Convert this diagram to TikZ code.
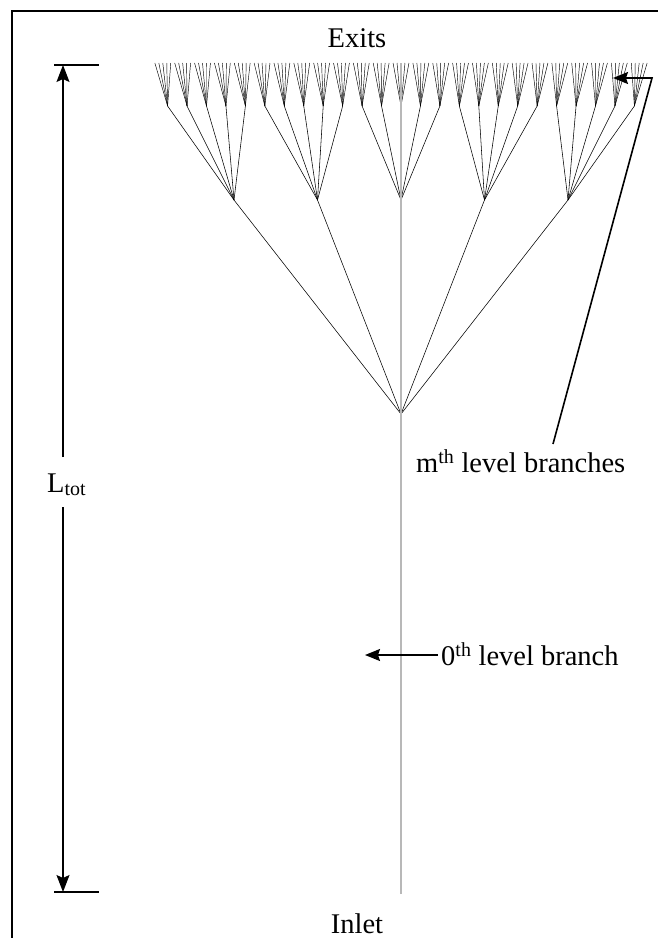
\documentclass[tikz,border=0pt]{standalone}
\usepackage{fontspec}
\setmainfont{Liberation Serif}
\usetikzlibrary{arrows.meta}
\begin{document}
\begin{tikzpicture}[x=1bp,y=-1bp,
  branch/.style={line width=0.55bp, black},
  tipbranch/.style={line width=0.45bp, black},
  axisline/.style={line width=1.1bp, black!28},
  framing/.style={line width=1.3bp, black},
  dimline/.style={line width=1.4bp, black},
  pointer/.style={line width=1.6bp, black, -{Stealth[length=15bp,width=12bp,inset=2bp]}},
  dimtip/.style={-{Stealth[length=17bp,width=13bp,inset=3bp]}},
  lab/.style={inner sep=0pt, font=\fontsize{28.5bp}{33bp}\selectfont}]
\useasboundingbox (0,0) rectangle (658,938);

% open frame: top and left edges
\coordinate (fbl) at (12,938);
\coordinate (ftl) at (12,11);
\coordinate (ftr) at (658,11);
\draw[framing] (fbl) -- (ftl) -- (ftr);

% tree nodes: inlet, root, and three levels of five-fold branching
\coordinate (in) at (401,894);
\coordinate (n0) at (401,414);
\foreach \k in {0,...,4}
  \coordinate (a\k) at ({401+(\k-2)*83.5},200);
\foreach \j in {0,...,24}
  \coordinate (b\j) at ({401+(\j-12)*19.45},106);
\foreach \i in {0,...,124}
  \coordinate (c\i) at ({401+(\i-62)*3.97},63);

% branches
\foreach \i in {0,...,124}{
  \pgfmathtruncatemacro{\p}{\i/5}
  \ifnum\i=62\else\draw[tipbranch] (b\p) -- (c\i);\fi
}
\foreach \j in {0,...,24}{
  \pgfmathtruncatemacro{\p}{\j/5}
  \ifnum\j=12\else\draw[branch] (a\p) -- (b\j);\fi
}
\foreach \k in {0,1,3,4}
  \draw[branch] (n0) -- (a\k);

% central axis from inlet to the middle exit
\draw[axisline] (in) -- (n0) -- (a2) -- (b12) -- (c62);

% labels
\node[lab, anchor=base] (exits) at (357,47) {Exits};
\node[lab, anchor=base] (inlet) at (357,933) {Inlet};
\node[lab, anchor=base west] (ltot) at (47,492) {L\textsubscript{tot}};
\node[lab, anchor=base west] (mlab) at (416,472) {m\textsuperscript{th} level branches};
\node[lab, anchor=base west] (zlab) at (441,665) {0\textsuperscript{th} level branch};

% overall length dimension
\coordinate (dt) at (63,65);
\coordinate (db) at (63,892);
\coordinate (dtl) at (54,65);
\coordinate (dtr) at (99,65);
\coordinate (dbl) at (54,892);
\coordinate (dbr) at (99,892);
\coordinate (gapt) at (63,457);
\coordinate (gapb) at (63,507);
\draw[dimline] (dtl) -- (dtr);
\draw[dimline] (dbl) -- (dbr);
\draw[dimline, dimtip] (gapt) -- (dt);
\draw[dimline, dimtip] (gapb) -- (db);

% pointer to the outermost branches
\coordinate (ms) at (553,444);
\coordinate (mb) at (652,78);
\coordinate (mt) at (613,78);
\draw[pointer] (ms) -- (mb) -- (mt);

% pointer to the trunk
\coordinate (zs) at (438,655);
\coordinate (zt) at (365,655);
\draw[pointer] (zs) -- (zt);
\end{tikzpicture}
\end{document}
